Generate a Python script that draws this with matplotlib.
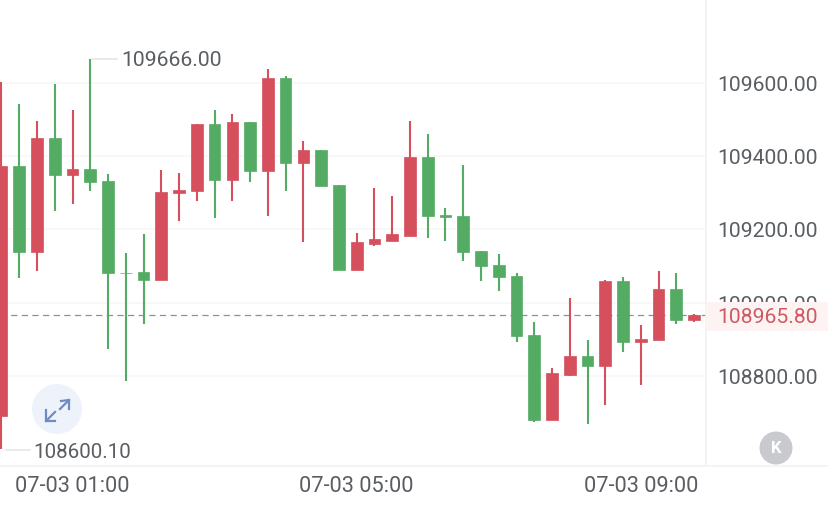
import matplotlib
matplotlib.use("Agg")
import matplotlib.pyplot as plt
from matplotlib.patches import Circle, Rectangle
import numpy as np

plt.rcParams['font.family'] = ['Roboto', 'DejaVu Sans']

opens  = [108691,109373,109139,109450,109349,109365,109332,109082,109084,109062,
          109300,109305,109488,109335,109494,109360,109614,109382,109417,109322,
          109089,109160,109169,109182,109398,109240,109237,109141,109103,109073,
          108912,108680,108803,108855,108827,109059,108893,108898,109038,108953]
closes = [109373,109139,109450,109349,109365,109330,109081,109080,109062,109302,
          109308,109488,109335,109494,109360,109614,109382,109417,109319,109089,
          109166,109174,109188,109398,109237,109234,109139,109100,109070,108909,
          108680,108808,108855,108827,109059,108893,108901,109038,108953,108967]
highs  = [109603,109543,109496,109597,109526,109666,109352,109136,109188,109362,
          109354,109488,109526,109515,109494,109638,109619,109442,109417,109322,
          109190,109313,109292,109496,109461,109259,109376,109141,109133,109081,
          108948,108822,109013,108898,109062,109070,108939,109087,109081,108969]
lows   = [108601,109068,109087,109251,109270,109305,108874,108786,108942,109062,
          109223,109278,109231,109278,109330,109237,109305,109166,109319,109089,
          109089,109155,109169,109182,109177,109169,109114,109059,109032,108893,
          108675,108680,108800,108669,108721,108866,108776,108898,108942,108948]
price_ticks = [109600, 109400, 109200, 109000, 108800]
price_labels = ["109600.00", "109400.00", "109200.00", "109000.00", "108800.00"]
last_price = 108965.80
time_idx = [4, 20, 36]
time_labels = ["07-03 01:00", "07-03 05:00", "07-03 09:00"]
high_label = "109666.00"
low_label = "108600.10"

RED, GREEN = "#d54f5d", "#54ab63"
W, H = 829, 510
fig = plt.figure(figsize=(W/100, H/100), dpi=100, facecolor="white")

# chart area: pixels x 0..706, y 0..466
ax = fig.add_axes([0, 1-466/H, 706/W, 466/H])
ax.set_xlim(-0.084, 39.67)
ax.set_ylim(108557, 109829)
ax.axis("off")

ax.hlines(price_ticks, -0.084, 39.67, color="#f6f6f6", lw=1.1, zorder=1)
ax.axhline(last_price, color="#909090", lw=0.9, dashes=(5, 3.5), zorder=2)

o, c, h, l = map(np.array, (opens, closes, highs, lows))
x = np.arange(len(o))
cols = [RED if b >= a else GREEN for a, b in zip(o, c)]
ax.vlines(x, l, h, colors=cols, lw=1.5, zorder=3)
ax.bar(x, np.abs(c-o), bottom=np.minimum(o, c), width=0.66, color=cols,
       edgecolor=cols, linewidth=0.5, zorder=4)

# overlay in pixel coordinates for labels and controls
ov = fig.add_axes([0, 0, 1, 1], facecolor="none")
ov.set_xlim(0, W)
ov.set_ylim(H, 0)
ov.axis("off")

TXT = "#5a5d62"
FS = 15.2
def py(p):
    return 85.5 + (109600 - p) / 2.7304

ov.plot([706, 706], [0, 466], color="#f0f0f0", lw=1.1)
ov.plot([0, W], [466.5, 466.5], color="#f2f2f2", lw=1.2)

for p, s in zip(price_ticks, price_labels):
    ov.text(768, py(p), s, ha="center", va="center", fontsize=FS, color=TXT, zorder=2)

ov.add_patch(Rectangle((706, 302.5), 123.5, 29, facecolor="#fdf3f2", edgecolor="none", zorder=3))
ov.text(768, 318, f"{last_price:.2f}", ha="center", va="center", fontsize=FS, color="#cf5a63", zorder=4)

ov.plot([92, 117], [59.5, 59.5], color="#e4e4e4", lw=1.1)
ov.text(121.5, 61, high_label, ha="left", va="center", fontsize=FS, color=TXT)
ov.plot([6, 30], [450.5, 450.5], color="#e4e4e4", lw=1.1)
ov.text(33, 452.5, low_label, ha="left", va="center", fontsize=14.8, color=TXT)

for i, s in zip(time_idx, time_labels):
    ov.text(1.5 + i*17.76, 487, s, ha="center", va="center", fontsize=15.7, color=TXT)

# expand button
ov.add_patch(Circle((57, 410), 25, facecolor="#eef3fb", edgecolor="none"))
blue = "#6f8cc2"
ov.plot([61, 69, 69], [402, 401, 410], color=blue, lw=1.6)
ov.plot([69, 60], [401, 410], color=blue, lw=1.6)
ov.plot([46, 46, 55], [411, 422, 422], color=blue, lw=1.6)
ov.plot([46, 55], [422, 413], color=blue, lw=1.6)

# K button
ov.add_patch(Circle((776, 449), 16.5, facecolor="#c9cacd", edgecolor="none"))
ov.text(776, 449, "K", ha="center", va="center", fontsize=12, color="white", fontweight="bold")

fig.savefig("out.png", dpi=100)
